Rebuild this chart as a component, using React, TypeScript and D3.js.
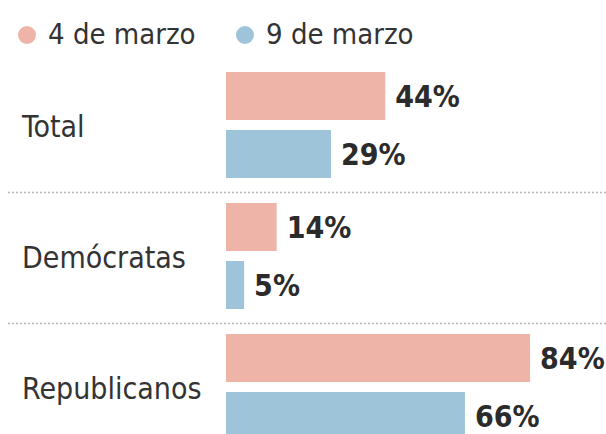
import React from "react";
import * as d3 from "d3";

const categories = ["Total", "Demócratas", "Republicanos"];
const seriesNames = ["4 de marzo", "9 de marzo"];
const march4 = [44, 14, 84];
const march9 = [29, 5, 66];
const colors = ["#efb4a8", "#9dc4d8"];

const W = 606;
const H = 434;
const FONT = "'DejaVu Sans Condensed', 'DejaVu Sans', sans-serif";

export default function App() {
  const x = d3.scaleLinear().domain([0, 100]).range([226, 588]);
  const y = d3.scaleBand<string>().domain(categories).range([60, 60 + 131 * 3]).paddingInner(0);
  const sub = d3
    .scaleBand<string>()
    .domain(seriesNames)
    .range([12, 118])
    .paddingInner(10 / 58)
    .paddingOuter(0);
  const values = [march4, march9];

  return (
    <svg
      width={W}
      height={H}
      viewBox={`0 0 ${W} ${H}`}
      style={{ position: "absolute", left: 0, top: 0, display: "block", background: "#fff" }}
      fontFamily={FONT}
    >
      {/* legend */}
      {seriesNames.map((s, i) => {
        const lx = i === 0 ? 27 : 245;
        return (
          <g key={s}>
            <circle cx={lx} cy={35} r={9} fill={colors[i]} />
            <text
              x={lx + 21}
              y={44}
              fontSize={29}
              fill="#333"
              style={{ fontStretch: "condensed" }}
            >
              {s}
            </text>
          </g>
        );
      })}

      {/* separators */}
      {categories.slice(1).map((c) => (
        <line
          key={c}
          x1={8}
          x2={W}
          y1={(y(c) as number) + 1.5}
          y2={(y(c) as number) + 1.5}
          stroke="#b8b8b8"
          strokeWidth={1.5}
          strokeDasharray="2,2"
        />
      ))}

      {categories.map((c, ci) => {
        const gy = y(c) as number;
        const center = gy + 12 + 53;
        return (
          <g key={c}>
            <text
              x={22}
              y={center + 12}
              fontSize={30}
              fill="#333"
              style={{ fontStretch: "condensed" }}
            >
              {c}
            </text>
            {seriesNames.map((s, si) => {
              const v = values[si][ci];
              const by = gy + (sub(s) as number);
              const bh = sub.bandwidth();
              return (
                <g key={s}>
                  <rect x={x(0)} y={by} width={x(v) - x(0)} height={bh} fill={colors[si]} />
                  <text
                    x={x(v) + 10}
                    y={by + bh / 2 + 11}
                    fontSize={30}
                    fontWeight="bold"
                    fill="#2b2b2b"
                    style={{ fontStretch: "condensed" }}
                  >
                    {v}%
                  </text>
                </g>
              );
            })}
          </g>
        );
      })}
    </svg>
  );
}
